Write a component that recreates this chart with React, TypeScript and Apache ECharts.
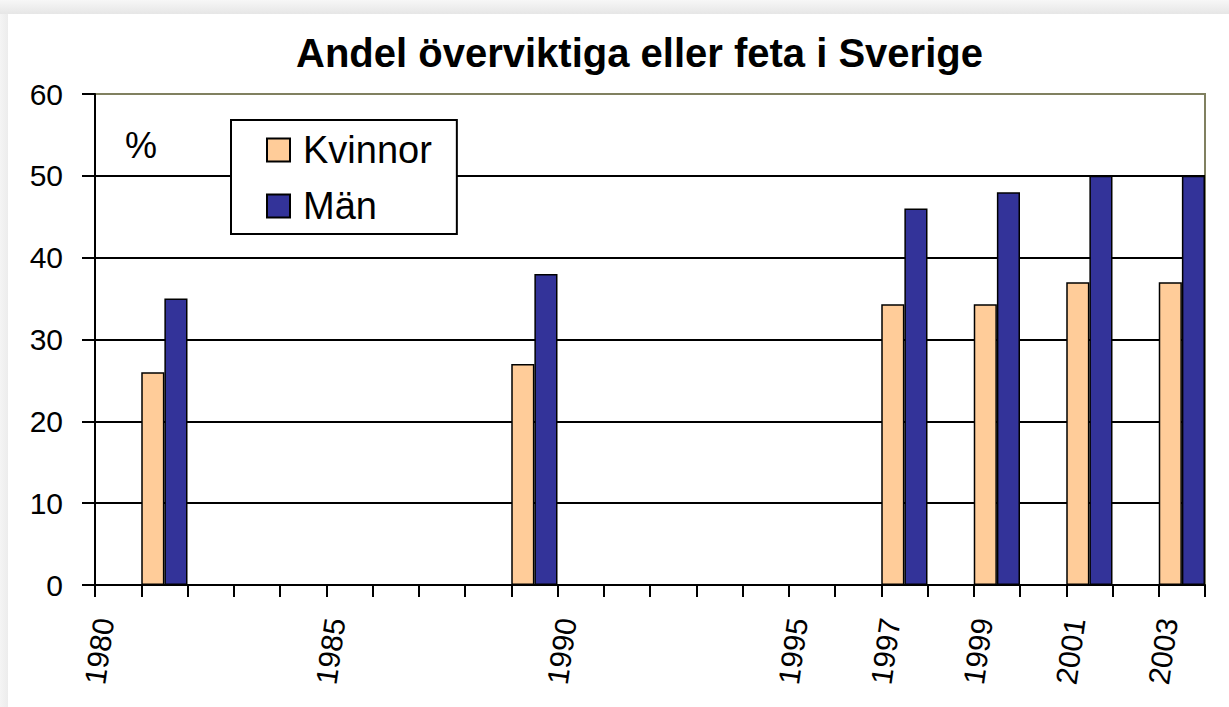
import React, { useEffect, useRef } from "react";
import * as echarts from "echarts";

const titleText = "Andel överviktiga eller feta i Sverige";
const unitText = "%";
const seriesNames = ["Kvinnor", "Män"];
const seriesColors = ["#FFCC99", "#333399"];

const years = [
  "1980", "1981", "1982", "1983", "1984", "1985", "1986", "1987",
  "1988", "1989", "1990", "1991", "1992", "1993", "1994", "1995",
  "1996", "1997", "1998", "1999", "2000", "2001", "2002", "2003",
];

const kvinnor = [
  null, 26, null, null, null, null, null, null,
  null, 27, null, null, null, null, null, null,
  null, 34.3, null, 34.3, null, 37, null, 37,
];

const man = [
  null, 35, null, null, null, null, null, null,
  null, 38, null, null, null, null, null, null,
  null, 46, null, 48, null, 50, null, 50,
];

const tickYears = [
  "1980", "1981", "1982", "1983", "1984", "1985", "1986", "1987",
  "1988", "1989", "1990", "1991", "1992", "1993", "1994", "1995",
  "1996", "1997", "1998", "1999", "2000", "2001", "2002", "2003", "2004",
];
const shownTickLabels = ["1980", "1985", "1990", "1995", "1997", "1999", "2001", "2003"];

const yMin = 0;
const yMax = 60;
const yStep = 10;

const FONT = "'Liberation Sans', Arial, sans-serif";

export default function App() {
  const ref = useRef<HTMLDivElement>(null);

  useEffect(() => {
    document.body.style.margin = "0";
    if (!ref.current) return;
    const chart = echarts.init(ref.current, null, { renderer: "svg" });
    chart.setOption({
      animation: false,
      backgroundColor: "#ffffff",
      textStyle: { fontFamily: FONT, color: "#000" },
      title: {
        text: titleText,
        left: 296,
        top: 33,
        padding: 0,
        textStyle: { fontFamily: FONT, fontSize: 40, fontWeight: "bold", color: "#000" },
      },
      legend: {
        orient: "vertical",
        left: 231,
        top: 120,
        padding: [11, 25, 9, 35],
        itemGap: 18,
        itemWidth: 23,
        itemHeight: 23,
        icon: "rect",
        borderColor: "#000",
        borderWidth: 2,
        backgroundColor: "#fff",
        data: seriesNames,
        textStyle: { fontFamily: FONT, fontSize: 38, color: "#000", padding: [0, 0, 0, 8] },
      },
      graphic: [
        {
          type: "rect",
          shape: { x: 0, y: 0, width: 1229, height: 14 },
          style: {
            fill: new echarts.graphic.LinearGradient(0, 0, 0, 1, [
              { offset: 0, color: "#f7f7f7" },
              { offset: 1, color: "#e6e6e6" },
            ]),
          },
          silent: true,
        },
        {
          type: "rect",
          shape: { x: 0, y: 14, width: 8, height: 693 },
          style: {
            fill: new echarts.graphic.LinearGradient(0, 0, 1, 0, [
              { offset: 0, color: "#f4f4f4" },
              { offset: 1, color: "#ececec" },
            ]),
          },
          silent: true,
        },
        {
          type: "text",
          left: 125,
          top: 127,
          z: 10,
          style: { text: unitText, fontFamily: FONT, fontSize: 36, fill: "#000" },
        },
      ],
      grid: {
        left: 95,
        right: 24,
        top: 94,
        bottom: 122,
        show: true,
        borderColor: "#808060",
        borderWidth: 2,
        backgroundColor: "transparent",
      },
      xAxis: [
        {
          type: "category",
          data: years,
          boundaryGap: true,
          position: "bottom",
          axisLine: { show: true, lineStyle: { color: "#000", width: 2 } },
          axisTick: { show: true, interval: 0, length: 12, lineStyle: { color: "#000", width: 2 } },
          axisLabel: { show: false },
          splitLine: { show: false },
        },
        {
          type: "category",
          data: tickYears,
          boundaryGap: false,
          position: "bottom",
          axisLine: { show: false },
          axisTick: { show: false },
          splitLine: { show: false },
          axisLabel: {
            show: true,
            rotate: 82,
            margin: 32,
            fontSize: 30,
            fontFamily: FONT,
            color: "#000",
            verticalAlign: "top",
            lineHeight: 18,
            interval: (_idx: number, val: string) => shownTickLabels.includes(val),
          },
        },
      ],
      yAxis: {
        type: "value",
        min: yMin,
        max: yMax,
        interval: yStep,
        axisLine: { show: true, lineStyle: { color: "#000", width: 2 } },
        axisTick: { show: true, length: 13, lineStyle: { color: "#000", width: 2 } },
        axisLabel: { margin: 32, fontSize: 30, fontFamily: FONT, color: "#000" },
        splitLine: { show: true, showMaxLine: false, lineStyle: { color: "#000", width: 2 } },
      },
      series: [
        {
          name: seriesNames[0],
          type: "bar",
          xAxisIndex: 0,
          data: kvinnor,
          barGap: "0%",
          barCategoryGap: "0%",
          itemStyle: { color: seriesColors[0], borderColor: "#000", borderWidth: 1.5 },
        },
        {
          name: seriesNames[1],
          type: "bar",
          xAxisIndex: 0,
          data: man,
          barGap: "0%",
          barCategoryGap: "0%",
          itemStyle: { color: seriesColors[1], borderColor: "#000", borderWidth: 1.5 },
        },
      ],
    });
    return () => chart.dispose();
  }, []);

  return <div ref={ref} style={{ width: 1229, height: 707 }} />;
}
